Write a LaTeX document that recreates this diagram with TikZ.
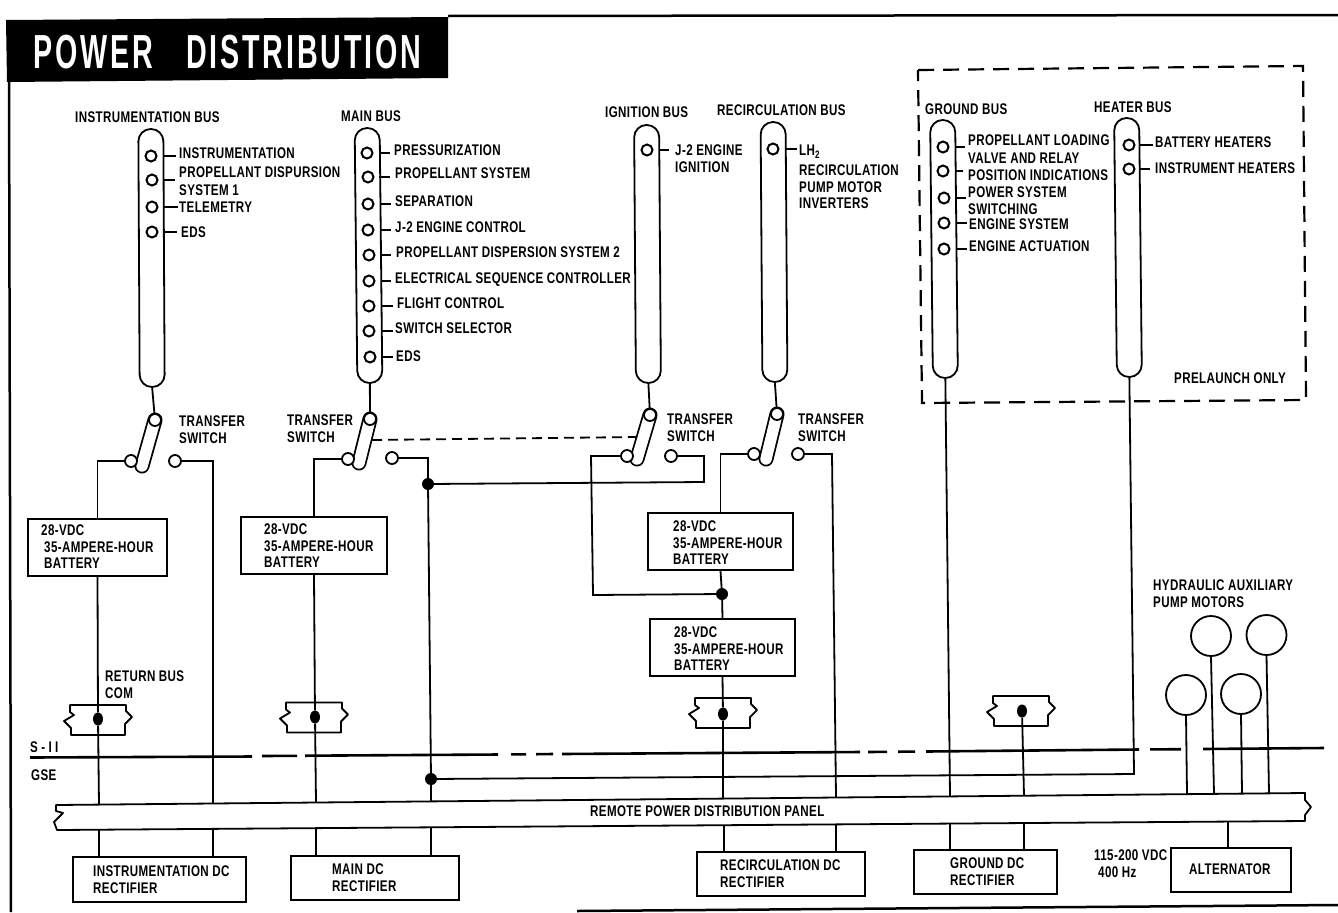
\documentclass[tikz,border=0pt]{standalone}
\usepackage{fontspec}
\newfontfamily\dfont[FakeStretch=0.75,LetterSpace=2.5]{Liberation Sans}
\newfontfamily\tfont[FakeStretch=0.6,LetterSpace=6]{Liberation Sans}
\tikzset{
  ln/.style={line width=1.8bp},
  lab/.style={font=\dfont\bfseries\fontsize{15.5}{16.5}\selectfont,anchor=north west,inner sep=0pt,align=left,text=black},
  busbar/.style={draw,ln,rectangle,rounded corners=12.3bp,minimum width=25bp,inner sep=0pt},
  contact/.style={draw,ln,circle,fill=white,minimum size=12bp,inner sep=0pt},
  pin/.style={draw,line width=2bp,circle,minimum size=11bp,inner sep=0pt},
  junction/.style={fill=black,ellipse,minimum width=10bp,minimum height=13bp,inner sep=0pt},
  jdot/.style={fill=black,circle,minimum size=12bp,inner sep=0pt},
  boxnode/.style={draw,ln,rectangle,inner sep=0pt},
  motor/.style={draw,ln,circle,minimum size=40bp,inner sep=0pt},
  dashline/.style={line width=2.2bp,dash pattern=on 16bp off 9bp},
}
\usetikzlibrary{shapes.geometric}
% name, x, y, bus edge x, tick end x
\newcommand{\bitem}[5]{\node[pin] (#1) at (#2,#3) {};
  \coordinate (#1a) at (#4,#3); \coordinate (#1b) at (#5,#3); \draw[ln] (#1a) -- (#1b);}
% name, center x,y, w, h
\newcommand{\bx}[5]{\node[boxnode,minimum width=#4 bp,minimum height=#5 bp] (#1) at (#2,#3) {};}
% name, top x,y, lever bottom x,y
\newcommand{\lever}[5]{\coordinate (#1p) at (#2,#3); \coordinate (#1q) at (#4,#5);
  \draw[line width=15bp,line cap=round] (#1p) -- (#1q);
  \draw[white,line width=11.4bp,line cap=round] (#1p) -- (#1q);
  \node[contact] (#1t) at (#1p) {};}
% terminal strip: center x,y
\newcommand{\strip}[2]{\draw[ln,line join=round,shift={(#1,#2)}]
  (-28,-15) -- (28,-15) -- (28,-9) -- (34,-3) -- (27,4) -- (27,15) -- (-27,15) -- (-27,8) -- (-34,1) -- (-24,-5) -- (-28,-8) -- cycle;}
\begin{document}
\begin{tikzpicture}[x=1bp,y=-1bp]
\useasboundingbox (0,0) rectangle (1338,912);
% frame and title
\draw[line width=2.5bp] (448,16) -- (1338,15);
\draw[line width=2.5bp] (9,80) -- (11,912);
\draw[line width=2.5bp] (577,911) -- (1338,905);
\fill[black] (6,20) -- (448,17) -- (448,78) -- (7,82) -- cycle;
\node[anchor=base west,inner sep=0pt,text=white,font=\tfont\bfseries\fontsize{48}{48}\selectfont] (title) at (33,68) {POWER\hspace{33bp}DISTRIBUTION};

% prelaunch box
\draw[dashline] (918,70) -- (1303,66) -- (1306,400) -- (922,403) -- cycle;

% buses
\node[busbar,minimum height=258bp,rotate=0.3] (busI) at (151.5,258) {};
\node[busbar,minimum height=255bp,rotate=0.6] (busM) at (368.5,255.5) {};
\node[busbar,minimum height=258bp,rotate=0.4] (busG) at (647.5,254) {};
\node[busbar,minimum height=260bp,rotate=0.4] (busR) at (774,252) {};
\node[busbar,minimum height=258bp,rotate=0.6] (busD) at (944,249) {};
\node[busbar,minimum height=259bp,rotate=0.6] (busH) at (1128,247.5) {};

% bus titles
\node[lab] (tI) at (75,112) {INSTRUMENTATION BUS};
\node[lab] (tM) at (341,111) {MAIN BUS};
\node[lab] (tG) at (605,107) {IGNITION BUS};
\node[lab] (tR) at (717,105) {RECIRCULATION BUS};
\node[lab] (tD) at (925,104) {GROUND BUS};
\node[lab] (tH) at (1094,102) {HEATER BUS};

% instrumentation items
\bitem{ia}{151}{156}{164}{176}
\bitem{ib}{152}{180}{164}{175}
\bitem{ic}{152}{207}{164}{178}
\bitem{id}{152}{232}{164}{177}
\node[lab] (la) at (179,148) {INSTRUMENTATION};
\node[lab] (lb) at (179,167) {PROPELLANT DISPURSION\\[1.5bp]SYSTEM 1};
\node[lab] (lc) at (179,202) {TELEMETRY};
\node[lab] (ld) at (181,227) {EDS};

% main items
\bitem{ma}{367}{153}{379}{390}
\bitem{mb}{368}{177}{379}{390}
\bitem{mc}{368}{204}{380}{391}
\bitem{md}{368}{230}{380}{391}
\bitem{me}{369}{255}{380}{391}
\bitem{mf}{369}{281}{381}{391}
\bitem{mg}{369}{306}{381}{393}
\bitem{mh}{369}{331}{381}{393}
\bitem{mi}{370}{357}{381}{393}
\node[lab] (lma) at (394,145) {PRESSURIZATION};
\node[lab] (lmb) at (395,168) {PROPELLANT SYSTEM};
\node[lab] (lmc) at (395,196) {SEPARATION};
\node[lab] (lmd) at (395,222) {J-2 ENGINE CONTROL};
\node[lab] (lme) at (396,247) {PROPELLANT DISPERSION SYSTEM 2};
\node[lab] (lmf) at (395,273) {ELECTRICAL SEQUENCE CONTROLLER};
\node[lab] (lmg) at (397,298) {FLIGHT CONTROL};
\node[lab] (lmh) at (395,323) {SWITCH SELECTOR};
\node[lab] (lmi) at (396,351) {EDS};

% ignition and recirculation items
\bitem{ga}{647}{150}{660}{669}
\node[lab] (lga) at (675,145) {J-2 ENGINE\\IGNITION};
\bitem{ra}{773}{149}{786}{797}
\node[lab] (lra) at (799,145) {LH\textsubscript{2}};
\node[lab] (lrb) at (799,165) {RECIRCULATION\\PUMP MOTOR\\INVERTERS};

% ground items
\bitem{da}{943}{147}{955}{965}
\bitem{db}{943}{171}{955}{963}
\bitem{dc}{944}{198}{955}{966}
\bitem{dd}{944}{223}{956}{967}
\bitem{de}{944}{249}{956}{967}
\node[lab] (lda) at (968,135) {PROPELLANT LOADING};
\node[lab] (ldb) at (968,153) {VALVE AND RELAY\\POSITION INDICATIONS};
\node[lab] (ldc) at (968,187) {POWER SYSTEM\\SWITCHING};
\node[lab] (ldd) at (969,219) {ENGINE SYSTEM};
\node[lab] (lde) at (969,241) {ENGINE ACTUATION};

% heater items
\bitem{ha}{1129}{145}{1140}{1153}
\bitem{hb}{1129}{169}{1140}{1150}
\node[lab] (lha) at (1155,137) {BATTERY HEATERS};
\node[lab] (lhb) at (1155,163) {INSTRUMENT HEATERS};
\node[lab] (lpre) at (1174,373) {PRELAUNCH ONLY};

% transfer switches
\lever{s1}{155}{420}{142}{466}
\lever{s2}{370}{419}{359}{463}
\lever{s3}{650}{415}{637}{459}
\lever{s4}{777}{414}{766}{459}
\node[contact] (s1l) at (131,461) {};
\node[contact] (s1r) at (175,461) {};
\node[contact] (s2l) at (348,459) {};
\node[contact] (s2r) at (392,458) {};
\node[contact] (s3l) at (627,456) {};
\node[contact] (s3r) at (671,456) {};
\node[contact] (s4l) at (754,454) {};
\node[contact] (s4r) at (798,454) {};
\draw[ln] (busI.south) -- (s1t);
\draw[ln] (busM.south) -- (s2t);
\draw[ln] (busG.south) -- (s3t);
\draw[ln] (busR.south) -- (s4t);
\node[lab] (ts1) at (179,416) {TRANSFER\\SWITCH};
\node[lab] (ts2) at (287,415) {TRANSFER\\SWITCH};
\node[lab] (ts3) at (667,414) {TRANSFER\\SWITCH};
\node[lab] (ts4) at (798,414) {TRANSFER\\SWITCH};
\coordinate (dl) at (372,440);
\coordinate (dr) at (637,437);
\draw[ln,dash pattern=on 10bp off 6bp] (dl) -- (dr);

% batteries
\bx{b1}{97.5}{547.5}{139}{57}
\bx{b2}{314}{545.5}{146}{57}
\bx{b3}{720.5}{541.5}{145}{57}
\bx{b4}{722.5}{647.5}{145}{57}
\node[lab] (tb1) at (41,525) {28-VDC\\\hspace{3bp}35-AMPERE-HOUR\\\hspace{3bp}BATTERY};
\node[lab] (tb2) at (264,524) {28-VDC\\35-AMPERE-HOUR\\BATTERY};
\node[lab] (tb3) at (673,521) {28-VDC\\35-AMPERE-HOUR\\BATTERY};
\node[lab] (tb4) at (674,627) {28-VDC\\35-AMPERE-HOUR\\BATTERY};

% panel
\draw[ln,line join=round,fill=white] (56,805) -- (1305,793) -- (1305,800) -- (1311,807) -- (1305,815) -- (1305,821) -- (57,830) -- (54,822) -- (63,813) -- (56,811) -- cycle;
\node[lab] (tpanel) at (590,806) {REMOTE POWER DISTRIBUTION PANEL};

% rectifiers
\bx{r1}{159.5}{879.5}{173}{45}
\bx{r2}{375}{878}{168}{44}
\bx{r3}{781}{874}{168}{44}
\bx{r4}{985.5}{872}{143}{44}
\bx{r5}{1231}{870}{120}{44}
\node[lab] (tr1) at (93,866) {INSTRUMENTATION DC\\RECTIFIER};
\node[lab] (tr2) at (332,864) {MAIN DC\\RECTIFIER};
\node[lab] (tr3) at (720,860) {RECIRCULATION DC\\RECTIFIER};
\node[lab] (tr4) at (950,858) {GROUND DC\\RECTIFIER};
\node[lab] (tr5) at (1189,864) {ALTERNATOR};
\node[lab] (t115) at (1094,850) {115-200 VDC\\\hspace{4bp}400 Hz};

% panel tap points
\coordinate (pA) at (99,805);   \coordinate (qA) at (99,830);
\coordinate (pB) at (213,803.5);  \coordinate (qB) at (213,829);
\coordinate (pC) at (316,802.5);  \coordinate (qC) at (316,828);
\coordinate (pD) at (431,801.5);  \coordinate (qD) at (431,827);
\coordinate (pE) at (723,798.6);  \coordinate (qE) at (724,825);
\coordinate (pF) at (836,797.5);  \coordinate (qF) at (836,824);
\coordinate (pG) at (950,796.4);  \coordinate (qG) at (950,823.5);
\coordinate (pH) at (1024,795.7); \coordinate (qH) at (1024,823);
\coordinate (pI) at (1187,794);   \coordinate (pJ) at (1214,794);
\coordinate (pK) at (1242,793.5); \coordinate (pL) at (1269,793.3);
\coordinate (qM) at (1228,821.5);
\coordinate (c3r) at (704,456);

% switch to battery wiring
\draw[ln] (s1l) -| (b1.north);
\draw[ln] (s1r) -| (pB);
\draw[ln] (s2l) -| (b2.north);
\node[jdot] (j1) at (428,484) {};
\node[jdot] (j2) at (431,779) {};
\node[jdot] (j3) at (722,594) {};
\draw[ln] (s2r) -| (j1);
\draw[ln] (j1) -- (j2) -- (pD);
\draw[ln] (j1) -- (704,482) -- (c3r) -- (s3r);
\draw[ln] (s3l) -- (591,456) -- (593,595) -- (j3);
\draw[ln] (s4l) -| (b3.north);
\draw[ln] (b3.south) -- (j3) -- (b4.north);
\draw[ln] (s4r) -- (832,454) -- (pF);

% terminal strips
\strip{98}{720}
\strip{314}{717.5}
\strip{723}{713}
\strip{1021}{711}
\node[junction] (j4) at (98,719) {};
\node[junction] (j5) at (315,717) {};
\node[junction] (j6) at (723,714) {};
\node[junction] (j7) at (1022,711) {};
\draw[ln] (b1.south) -- (j4) -- (pA);
\draw[ln] (b2.south) -- (j5) -- (pC);
\draw[ln] (b4.south) -- (j6) -- (pE);
\draw[ln] (j7) -- (pH);

% ground and heater feeds
\draw[ln] (busD.south) -- (pG);
\coordinate (hc) at (1134,774);
\draw[ln] (j2) -- (hc) -- (busH.south);

% panel to rectifiers
\draw[ln] (qA) -- (qA |- r1.north);
\draw[ln] (qB) -- (qB |- r1.north);
\draw[ln] (qC) -- (qC |- r2.north);
\draw[ln] (qD) -- (qD |- r2.north);
\draw[ln] (qE) -- (qE |- r3.north);
\draw[ln] (qF) -- (qF |- r3.north);
\draw[ln] (qG) -- (qG |- r4.north);
\draw[ln] (qH) -- (qH |- r4.north);
\draw[ln] (qM) -- (qM |- r5.north);

% motors
\node[motor] (m1) at (1211,636) {};
\node[motor] (m2) at (1266.5,635) {};
\node[motor] (m3) at (1186,695) {};
\node[motor] (m4) at (1241,694) {};
\draw[ln] (m1.south) -- (pJ);
\draw[ln] (m2.south) -- (pL);
\draw[ln] (m3.south) -- (pI);
\draw[ln] (m4.south) -- (pK);
\node[lab] (thyd) at (1153,580) {HYDRAULIC AUXILIARY\\PUMP MOTORS};
\node[lab] (tret) at (105,671) {RETURN BUS\\COM};

% S-II / GSE separation line
\draw[line width=2.6bp] (30,757.5) -- (252,756.5);
\draw[line width=2.6bp] (262,756) -- (297,755.8);
\draw[line width=2.6bp] (305,755.7) -- (498,754.5);
\draw[line width=2.6bp] (511,754.4) -- (526,754.3);
\draw[line width=2.6bp] (536,754.2) -- (553,754);
\draw[line width=2.6bp] (562,754) -- (860,752);
\draw[line width=2.6bp] (868,752) -- (887,751.8);
\draw[line width=2.6bp] (898,751.7) -- (915,751.6);
\draw[line width=2.6bp] (926,751.5) -- (1139,749.5);
\draw[line width=2.6bp] (1150,749.4) -- (1181,749.2);
\draw[line width=2.6bp] (1203,749) -- (1324,748);
\node[lab] (tsii) at (30,742) {\addfontfeature{LetterSpace=22}S-II};
\node[lab] (tgse) at (31,770) {GSE};
\end{tikzpicture}
\end{document}
